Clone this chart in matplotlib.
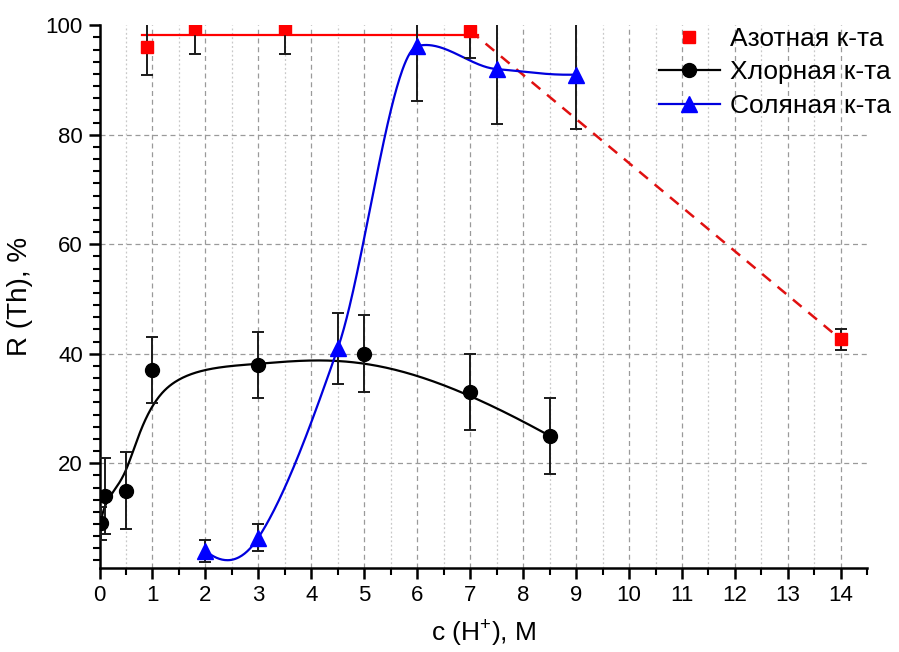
import numpy as np
import matplotlib.pyplot as plt
from matplotlib.lines import Line2D
from matplotlib.ticker import MultipleLocator, AutoMinorLocator

plt.rcParams['font.family'] = ['Liberation Sans', 'DejaVu Sans']
plt.rcParams['mathtext.fontset'] = 'custom'
plt.rcParams['mathtext.rm'] = 'Liberation Sans'
plt.rcParams['mathtext.it'] = 'Liberation Sans:italic'

# Азотная к-та
hno3_x = [0.9, 1.8, 3.5, 7, 14]
hno3_y = [96, 99.5, 99.5, 99, 42.6]
hno3_err = [5, 4.7, 4.7, 5, 2]
hno3_flat_x = [0.8, 7.15]
hno3_flat_y = [98.2, 98.2]
hno3_drop_x = [7, 14]
hno3_drop_y = [99, 42.6]

# Хлорная к-та
hclo4_x = [0.02, 0.1, 0.5, 1, 3, 5, 7, 8.5]
hclo4_y = [9, 14, 15, 37, 38, 40, 33, 25]
hclo4_err = [3, 7, 7, 6, 6, 7, 7, 7]

# Соляная к-та
hcl_x = [2, 3, 4.5, 6, 7.5, 9]
hcl_y = [4, 6.4, 41, 96.2, 92, 91]
hcl_err = [2, 2.5, 6.5, 10, 10, 10]

labels = ['Азотная к-та', 'Хлорная к-та', 'Соляная к-та']


def akima(x, y, num=400):
    # Akima spline through the points (Origin-like "spline" connect)
    x = np.asarray(x, float)
    y = np.asarray(y, float)
    n = len(x)
    h = np.diff(x)
    m = np.diff(y) / h
    m = np.concatenate([[3 * m[0] - 2 * m[1], 2 * m[0] - m[1]], m,
                        [2 * m[-1] - m[-2], 3 * m[-1] - 2 * m[-2]]])
    t = np.zeros(n)
    for i in range(n):
        w1 = abs(m[i + 3] - m[i + 2])
        w2 = abs(m[i + 1] - m[i])
        if w1 + w2 == 0:
            t[i] = (m[i + 1] + m[i + 2]) / 2
        else:
            t[i] = (w1 * m[i + 1] + w2 * m[i + 2]) / (w1 + w2)
    xs = np.linspace(x[0], x[-1], num)
    k = np.clip(np.searchsorted(x, xs) - 1, 0, n - 2)
    s = (xs - x[k]) / h[k]
    h00 = 2 * s ** 3 - 3 * s ** 2 + 1
    h10 = s ** 3 - 2 * s ** 2 + s
    h01 = -2 * s ** 3 + 3 * s ** 2
    h11 = s ** 3 - s ** 2
    ys = h00 * y[k] + h10 * h[k] * t[k] + h01 * y[k + 1] + h11 * h[k] * t[k + 1]
    return xs, ys


def bspline(x, y, num=400, p=3):
    # clamped B-spline with the points as control points
    c = np.column_stack([x, y]).astype(float)
    n = len(c)
    kn = np.concatenate([np.zeros(p), np.linspace(0, 1, n - p + 1), np.ones(p)])
    out = []
    for t in np.linspace(0, 1, num):
        k = min(np.searchsorted(kn, t, side='right') - 1, n - 1)
        d = [c[j + k - p].copy() for j in range(p + 1)]
        for r in range(1, p + 1):
            for j in range(p, r - 1, -1):
                a = (t - kn[j + k - p]) / (kn[j + 1 + k - r] - kn[j + k - p])
                d[j] = (1 - a) * d[j - 1] + a * d[j]
        out.append(d[p])
    out = np.array(out)
    return out[:, 0], out[:, 1]


fig = plt.figure(figsize=(8.99, 6.52), dpi=100)
ax = fig.add_axes([0.1107, 0.1284, 0.8541, 0.8328])

ax.set_xlim(0, 14.5)
ax.set_ylim(0.8, 100)
ax.xaxis.set_major_locator(MultipleLocator(1))
ax.xaxis.set_minor_locator(MultipleLocator(0.5))
ax.yaxis.set_major_locator(MultipleLocator(20))
ax.yaxis.set_minor_locator(AutoMinorLocator(9))

for s in ['top', 'right']:
    ax.spines[s].set_visible(False)
for s in ['left', 'bottom']:
    ax.spines[s].set_linewidth(1.8)
ax.tick_params(which='major', length=8, width=1.8, labelsize=16, pad=4)
ax.tick_params(which='minor', length=5, width=1.5)

# grid
x0, x1 = ax.get_xlim()
y0, y1 = ax.get_ylim()
for t in ax.xaxis.get_majorticklocs():
    if x0 < t < x1:
        ax.axvline(t, color='#9a9a9a', lw=0.9, ls=(0, (4, 3)), zorder=0)
for t in ax.xaxis.get_minorticklocs():
    if x0 < t < x1 and t % 1:
        ax.axvline(t, color='#c8c8c8', lw=0.9, ls=(0, (1.5, 2)), zorder=0)
for t in ax.yaxis.get_majorticklocs():
    if y0 < t < y1:
        ax.axhline(t, color='#9a9a9a', lw=0.9, ls=(0, (4, 3)), zorder=0)

# Азотная
ax.plot(hno3_flat_x, hno3_flat_y, color='#ff0000', lw=1.6, zorder=2)
ax.plot(hno3_drop_x, hno3_drop_y, color='#e01010', lw=1.8, ls=(0, (4.5, 3.5)), zorder=2)
ax.errorbar(hno3_x, hno3_y, yerr=hno3_err, fmt='none', ecolor='#1a1a1a',
            elinewidth=1.4, capsize=4, capthick=1.4, zorder=3)
ax.plot(hno3_x, hno3_y, 's', color='#ff0000', ms=8.5, mec='#ff0000', zorder=4)

# Хлорная
bx, by = bspline(hclo4_x, hclo4_y)
ax.plot(bx, by, color='black', lw=1.6, zorder=2)
ax.errorbar(hclo4_x, hclo4_y, yerr=hclo4_err, fmt='none', ecolor='#1a1a1a',
            elinewidth=1.4, capsize=4, capthick=1.4, zorder=3)
ax.plot(hclo4_x, hclo4_y, 'o', color='black', ms=10, zorder=4)

# Соляная
sx, sy = akima(hcl_x, hcl_y)
ax.plot(sx, sy, color='#0000dd', lw=1.6, zorder=2)
ax.errorbar(hcl_x, hcl_y, yerr=hcl_err, fmt='none', ecolor='#1a1a1a',
            elinewidth=1.4, capsize=4, capthick=1.4, zorder=3)
ax.plot(hcl_x, hcl_y, '^', color='#0000ff', ms=11, zorder=4)

ax.set_xlabel('c (H$^{+}$), M', fontsize=19, labelpad=9)
ax.set_ylabel('R (Th), %', fontsize=20, labelpad=9)

handles = [
    Line2D([], [], ls='none', marker='s', color='#ff0000', ms=8.5),
    Line2D([], [], color='black', lw=1.6, marker='o', ms=10),
    Line2D([], [], color='#0000dd', lw=1.6, marker='^', ms=11, mfc='#0000ff', mec='#0000ff'),
]
fig.legend(handles, labels, loc='upper left', bbox_to_anchor=(659 / 899, 1 - 27 / 652),
           frameon=False, fontsize=19, borderpad=0, borderaxespad=0,
           handlelength=2.3, handletextpad=0.4, labelspacing=0.36)

fig.savefig('out.png', dpi=100)
